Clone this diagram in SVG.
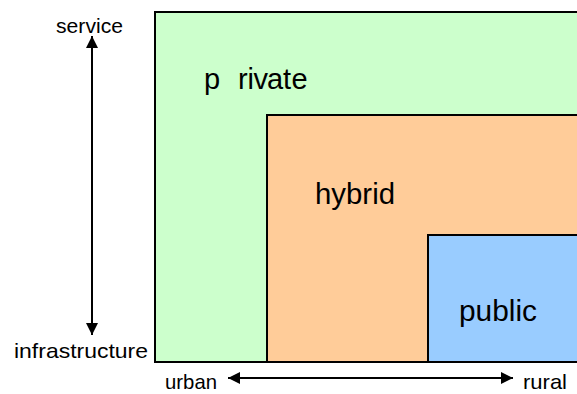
<svg xmlns="http://www.w3.org/2000/svg" width="577" height="394" viewBox="0 0 577 394">
  <defs>
    <marker id="arrow" viewBox="0 0 12 12" refX="12" refY="6" markerWidth="12" markerHeight="12" markerUnits="userSpaceOnUse" orient="auto-start-reverse">
      <path d="M0,0 L12,6 L0,12 Z" fill="#000"/>
    </marker>
  </defs>
  <style>
    .box { stroke: #000; stroke-width: 2; }
    .axis { stroke: #000; stroke-width: 2; fill: none; }
    .axis-label { font-family: "Liberation Sans", Arial, sans-serif; font-size: 21px; fill: #000; }
    .region-label { font-family: "Liberation Sans", Arial, sans-serif; font-size: 30px; fill: #000; }
    .spaced { font-size: 29px; }
  </style>

  <rect width="577" height="394" fill="#fff"/>

  <!-- nested regions -->
  <g id="private">
    <rect class="box" x="155" y="12" width="430" height="350" fill="#ccffcc"/>
    <!-- letters placed one by one to keep the uneven spacing -->
    <text class="region-label spaced" y="89"><tspan x="204">p</tspan><tspan x="238">r</tspan><tspan x="247.5">i</tspan><tspan x="253.5">v</tspan><tspan x="267">a</tspan><tspan x="283">t</tspan><tspan x="291.5">e</tspan></text>
  </g>
  <g id="hybrid">
    <rect class="box" x="267" y="115" width="318" height="247" fill="#ffcc99"/>
    <text class="region-label" x="315" y="204" textLength="80" lengthAdjust="spacingAndGlyphs">hybrid</text>
  </g>
  <g id="public">
    <rect class="box" x="428" y="235" width="157" height="127" fill="#99ccff"/>
    <text class="region-label" x="459" y="321" textLength="78" lengthAdjust="spacingAndGlyphs">public</text>
  </g>

  <!-- axes -->
  <g id="connectors">
    <line class="axis" x1="92" y1="36" x2="92" y2="335" marker-start="url(#arrow)" marker-end="url(#arrow)"/>
    <line class="axis" x1="228" y1="378" x2="513" y2="378" marker-start="url(#arrow)" marker-end="url(#arrow)"/>
  </g>

  <g id="axis-labels">
    <text class="axis-label" x="56" y="33" textLength="67" lengthAdjust="spacingAndGlyphs">service</text>
    <text class="axis-label" x="14" y="358" textLength="134" lengthAdjust="spacingAndGlyphs">infrastructure</text>
    <text class="axis-label" x="165" y="389" textLength="52" lengthAdjust="spacingAndGlyphs">urban</text>
    <text class="axis-label" x="523" y="389" textLength="44" lengthAdjust="spacingAndGlyphs">rural</text>
  </g>
</svg>
